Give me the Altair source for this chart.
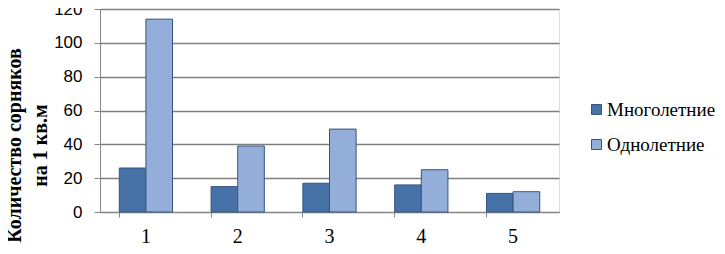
import altair as alt
import pandas as pd

categories = ["1", "2", "3", "4", "5"]
perennial = [26, 15, 17, 16, 11]
annual = [114, 39, 49, 25, 12]
series = ["Многолетние", "Однолетние"]
colors = ["#4672A8", "#94AEDA"]

SERIF = "'Liberation Serif', 'Times New Roman', serif"

rows = []
for i, c in enumerate(categories):
    rows.append({"cat": c, "series": series[0], "value": perennial[i]})
    rows.append({"cat": c, "series": series[1], "value": annual[i]})
df = pd.DataFrame(rows)

chart = alt.Chart(df).mark_bar(stroke="#35557F", strokeWidth=1).encode(
    x=alt.X("cat:N", sort=categories,
            scale=alt.Scale(paddingInner=0.42, paddingOuter=0.21),
            axis=alt.Axis(title=None, labelAngle=0, labelFont=SERIF,
                          labelFontSize=20, labelColor="#000000", labelPadding=9,
                          domainColor="#868686", tickColor="#868686", tickSize=5,
                          bandPosition=0, grid=False)),
    xOffset=alt.XOffset("series:N", sort=series),
    y=alt.Y("value:Q", scale=alt.Scale(domain=[0, 120], nice=False),
            axis=alt.Axis(values=[0, 20, 40, 60, 80, 100, 120],
                          title=["Количество сорняков", "на 1 кв.м"],
                          titleFont=SERIF, titleFontSize=20,
                          titleFontWeight="bold", titleColor="#000000",
                          titleLineHeight=26, titleX=-96, titleY=136,
                          titleBaseline="top", titleAngle=-90,
                          labelFont="'Liberation Sans', Arial, sans-serif", labelFontSize=17,
                          labelColor="#000000", labelPadding=12,
                          domainColor="#868686", tickColor="#868686", tickSize=6,
                          gridColor="#7F7F7F", gridWidth=1.5)),
    color=alt.Color("series:N", sort=series,
                    scale=alt.Scale(domain=series, range=colors),
                    legend=alt.Legend(title=None, orient="none", legendX=487, legendY=91,
                                      symbolType="square", symbolSize=100,
                                      symbolStrokeColor="#35557F", symbolStrokeWidth=1,
                                      labelFont=SERIF, labelFontSize=19,
                                      labelColor="#000000", rowPadding=15,
                                      labelOffset=1, labelLimit=300)),
).properties(
    width=459, height=203,
    autosize=alt.AutoSizeParams(type="none"),
    padding={"left": 92, "top": 1, "right": 158, "bottom": 34},
).configure_view(fill="#E8ECF4", stroke=None).configure(background="#FFFFFF")

chart.save("out.html", embed_options={"renderer": "svg", "actions": False})
